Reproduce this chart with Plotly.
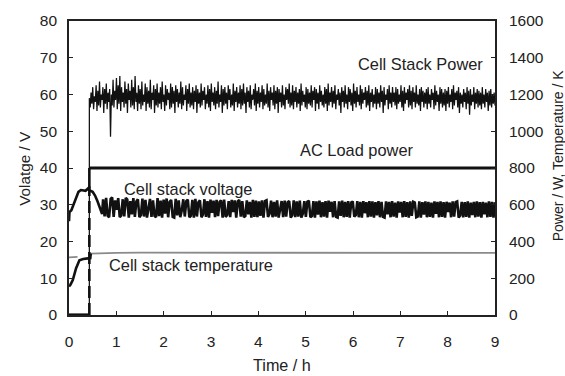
import plotly.graph_objects as go
import numpy as np

# ---------------- data ----------------
# Cell stack power (W, right axis)
power_pre_t = [0.0, 0.43, 0.43]
power_pre_w = [0, 0, 800]
power_t_start = 0.43
power_t_end = 9.0
power_w = [
    1180, 1130, 1210, 1150, 1240, 1120, 1190, 1160, 1250, 1110, 1220, 1140, 1270, 1130, 1200, 1170, 1240, 1100, 1230, 1150,
    1260, 1120, 1210, 1160, 1230, 970, 1200, 1140, 1280, 1130, 1220, 1170, 1290, 1120, 1250, 1150, 1300, 1110, 1240, 1160,
    1210, 1130, 1270, 1150, 1230, 1100, 1260, 1170, 1220, 1130, 1280, 1140, 1240, 1120, 1300, 1160, 1210, 1110, 1250, 1150,
    1230, 1120, 1270, 1140, 1200, 1160, 1260, 1110, 1240, 1150, 1220, 1130, 1280, 1120, 1210, 1170, 1250, 1100, 1230, 1140,
    1260, 1130, 1210, 1150, 1240, 1120, 1270, 1160, 1200, 1110, 1250, 1140, 1230, 1170, 1210, 1120, 1260, 1130, 1240, 1150,
    1220, 1100, 1250, 1160, 1230, 1130, 1210, 1150, 1270, 1120, 1240, 1140, 1200, 1170, 1250, 1110, 1230, 1150, 1260, 1130,
    1210, 1140, 1240, 1120, 1220, 1160, 1250, 1100, 1230, 1150, 1210, 1130, 1260, 1140, 1220, 1170, 1240, 1120, 1200, 1150,
    1250, 1130, 1230, 1110, 1260, 1160, 1210, 1140, 1240, 1120, 1220, 1150, 1270, 1130, 1200, 1160, 1250, 1100, 1230, 1140,
    1240, 1150, 1210, 1120, 1250, 1170, 1230, 1130, 1200, 1140, 1260, 1110, 1220, 1160, 1240, 1130, 1210, 1150, 1250, 1120,
    1230, 1140, 1260, 1150, 1210, 1100, 1240, 1160, 1220, 1130, 1250, 1120, 1200, 1170, 1230, 1140, 1260, 1110, 1220, 1150,
    1240, 1130, 1210, 1160, 1250, 1120, 1230, 1140, 1200, 1150, 1260, 1130, 1220, 1110, 1240, 1170, 1210, 1140, 1250, 1120,
    1220, 1150, 1240, 1100, 1230, 1160, 1210, 1130, 1250, 1140, 1200, 1120, 1240, 1170, 1230, 1150, 1260, 1130, 1210, 1140,
    1250, 1120, 1220, 1160, 1240, 1130, 1210, 1150, 1230, 1110, 1260, 1140, 1220, 1160, 1200, 1130, 1240, 1120, 1230, 1150,
    1210, 1140, 1250, 1130, 1220, 1170, 1240, 1110, 1230, 1150, 1210, 1120, 1250, 1160, 1220, 1140, 1200, 1130, 1240, 1150,
    1230, 1110, 1260, 1140, 1210, 1160, 1240, 1130, 1220, 1150, 1250, 1120, 1200, 1170, 1230, 1140, 1210, 1100, 1240, 1160,
    1220, 1130, 1250, 1150, 1200, 1120, 1240, 1160, 1230, 1140, 1210, 1110, 1260, 1150, 1220, 1130, 1240, 1160, 1200, 1140,
    1250, 1120, 1230, 1150, 1210, 1170, 1240, 1130, 1220, 1140, 1250, 1110, 1210, 1160, 1230, 1130, 1200, 1150, 1240, 1120,
    1230, 1150, 1210, 1130, 1250, 1160, 1220, 1100, 1240, 1140, 1200, 1170, 1230, 1120, 1250, 1150, 1210, 1130, 1240, 1160,
    1210, 1140, 1240, 1120, 1230, 1150, 1200, 1160, 1250, 1130, 1220, 1110, 1240, 1150, 1210, 1170, 1230, 1130, 1250, 1140,
    1220, 1120, 1240, 1160, 1210, 1130, 1250, 1150, 1200, 1140, 1230, 1110, 1240, 1160, 1220, 1130, 1210, 1150, 1230, 1120,
    1240, 1150, 1200, 1130, 1230, 1170, 1210, 1120, 1250, 1140, 1220, 1160, 1200, 1110, 1240, 1150, 1230, 1130, 1210, 1140,
    1230, 1110, 1220, 1150, 1240, 1130, 1200, 1160, 1230, 1120, 1250, 1140, 1210, 1170, 1220, 1130, 1240, 1100, 1210, 1150,
    1200, 1130, 1230, 1160, 1210, 1120, 1240, 1150, 1220, 1090, 1230, 1140, 1200, 1160, 1240, 1120, 1210, 1150, 1230, 1130,
    1220, 1140, 1210, 1120, 1240, 1150, 1200, 1130, 1230, 1160, 1210, 1110, 1220, 1140, 1230, 1130, 1200, 1150, 1210, 1140,
]

# AC load power (W, right axis)
ac_t = [0.0, 0.43, None, 0.43, 9.0]
ac_w = [0, 0, None, 800, 800]
ac_step_t = [0.43, 0.43]
ac_step_w = [0, 700]
ac_step_solid_t = [0.43, 0.43]
ac_step_solid_w = [690, 800]

# Cell stack voltage (V, left axis)
volt_start_t = [0.0, 0.01, 0.05, 0.1, 0.15, 0.2, 0.25, 0.3, 0.35, 0.4, 0.45, 0.5, 0.55, 0.6, 0.65, 0.7]
volt_start_v = [25.5, 28.0, 28.5, 30.0, 32.0, 33.5, 34.0, 34.0, 33.8, 34.4, 33.8, 33.5, 32.5, 31.0, 29.0, 27.5]
volt_osc_t_start = 0.72
volt_osc_t_end = 9.0
volt_osc_v = [
    31.5, 26.8, 31.9, 27.0, 26.6, 31.6, 32.0, 26.7, 31.2, 28.6, 31.8, 26.6, 27.1, 31.5, 26.8, 31.9, 31.4, 26.5, 31.0, 27.4,
    31.8, 26.7, 30.9, 31.5, 26.6, 27.2, 31.7, 26.8, 31.3, 26.5, 29.0, 31.6, 26.7, 31.2, 27.0, 26.6, 31.8, 26.9, 31.1, 26.5,
    31.4, 27.6, 31.7, 26.6, 30.8, 31.3, 26.7, 26.5, 31.6, 27.1, 31.2, 26.6, 28.4, 31.5, 26.8, 31.0, 31.4, 26.6, 27.0, 31.3,
    26.5, 31.6, 26.8, 30.7, 31.2, 26.6, 27.3, 31.5, 26.7, 31.0, 26.5, 31.4, 27.8, 31.1, 26.6, 31.3, 26.9, 30.8, 31.2, 26.5,
    31.4, 26.7, 27.2, 31.0, 26.6, 31.3, 28.0, 31.2, 26.5, 30.9, 31.3, 26.8, 31.0, 26.6, 26.9, 31.2, 27.4, 30.8, 26.5, 31.3,
    26.7, 31.1, 26.6, 30.9, 27.0, 31.2, 26.5, 31.0, 31.2, 26.7, 27.5, 31.1, 26.6, 30.8, 26.8, 31.2, 26.5, 28.3, 31.0, 26.6,
    31.1, 26.8, 30.7, 31.0, 26.5, 27.1, 31.2, 26.6, 30.9, 26.8, 31.1, 26.5, 27.6, 31.0, 26.7, 30.8, 31.1, 26.6, 26.9, 31.0,
    26.5, 30.9, 27.3, 31.1, 26.6, 30.7, 26.8, 31.0, 26.5, 31.1, 28.1, 30.8, 26.6, 31.0, 26.7, 26.5, 30.9, 27.0, 31.1, 26.6,
    30.8, 26.7, 31.0, 26.5, 30.6, 30.9, 26.8, 27.2, 31.0, 26.6, 30.8, 26.5, 31.0, 27.7, 30.7, 26.6, 31.0, 26.8, 30.9, 26.5,
    30.7, 27.1, 31.0, 26.6, 30.8, 26.7, 26.5, 30.9, 27.4, 30.8, 26.6, 31.0, 26.8, 30.6, 26.5, 30.9, 27.9, 30.8, 26.6, 31.0,
    26.7, 30.7, 26.5, 30.9, 27.0, 30.8, 30.6, 26.6, 26.8, 30.9, 26.5, 30.7, 27.3, 30.9, 26.6, 30.8, 26.7, 30.6, 26.5, 30.9,
    27.5, 30.8, 26.6, 30.9, 26.7, 30.7, 26.5, 30.8, 28.0, 30.6, 26.6, 30.9, 26.8, 30.7, 30.9, 26.5, 27.1, 30.8, 26.6, 30.7,
    26.7, 30.9, 26.5, 30.6, 27.2, 30.8, 26.6, 30.9, 26.8, 30.7, 26.5, 30.8, 27.4, 30.6, 26.6, 30.9, 26.7, 30.8, 26.5, 30.7,
]

# Cell stack temperature (K, right axis)
temp_thick_t = [0.0, 0.03, 0.08, 0.15, 0.22, 0.3, 0.4, 0.45, 0.46]
temp_thick_k = [155, 165, 190, 255, 298, 305, 308, 310, 334]
temp_thin_t = [0.0, 0.18, None, 0.45, 0.6, 0.8, 1.0, 1.5, 2.0, 3.0, 4.0, 5.0, 6.0, 7.0, 8.0, 9.0]
temp_thin_k = [314, 316, None, 334, 336, 337, 338, 339, 339, 339, 338, 338, 338, 338, 338, 338]

x_ticks = [0, 1, 2, 3, 4, 5, 6, 7, 8, 9]
y_left_ticks = [0, 10, 20, 30, 40, 50, 60, 70, 80]
y_right_ticks = [0, 200, 400, 600, 800, 1000, 1200, 1400, 1600]

# ---------------- figure ----------------
FONT = "Arial, Liberation Sans, sans-serif"
TXT = "#222222"
ML, MR, MT, MB = 68.5, 70, 18, 60.5
W, H = 565, 376

power_t = np.linspace(power_t_start, power_t_end, len(power_w))
volt_osc_t = np.linspace(volt_osc_t_start, volt_osc_t_end, len(volt_osc_v))

fig = go.Figure()

fig.add_trace(go.Scatter(x=temp_thin_t, y=temp_thin_k, yaxis="y2", mode="lines",
                         line=dict(color="#8a8a8a", width=1.8), connectgaps=False, hoverinfo="skip"))
fig.add_trace(go.Scatter(x=temp_thick_t, y=temp_thick_k, yaxis="y2", mode="lines",
                         line=dict(color="#111111", width=2.6), hoverinfo="skip"))
fig.add_trace(go.Scatter(x=list(power_pre_t) + list(power_t), y=list(power_pre_w) + list(power_w),
                         yaxis="y2", mode="lines", line=dict(color="#111111", width=1.25), hoverinfo="skip"))
fig.add_trace(go.Scatter(x=list(volt_start_t) + list(volt_osc_t), y=list(volt_start_v) + list(volt_osc_v),
                         yaxis="y", mode="lines", line=dict(color="#111111", width=2.6), hoverinfo="skip"))
fig.add_trace(go.Scatter(x=ac_t, y=ac_w, yaxis="y2", mode="lines", connectgaps=False,
                         line=dict(color="#111111", width=3.2), hoverinfo="skip"))
fig.add_trace(go.Scatter(x=ac_step_t, y=ac_step_w, yaxis="y2", mode="lines",
                         line=dict(color="#111111", width=2.6, dash="12px,5px"), hoverinfo="skip"))
fig.add_trace(go.Scatter(x=ac_step_solid_t, y=ac_step_solid_w, yaxis="y2", mode="lines",
                         line=dict(color="#111111", width=2.6), hoverinfo="skip"))

axis_common = dict(showgrid=False, zeroline=False, ticks="inside", ticklen=4, tickwidth=1,
                   tickcolor="#222", showline=True, linecolor="#222", linewidth=1.6,
                   tickfont=dict(family=FONT, size=15.5, color=TXT))

fig.update_layout(
    width=W, height=H,
    margin=dict(l=ML, r=MR, t=MT, b=MB),
    paper_bgcolor="white", plot_bgcolor="white",
    showlegend=False,
    font=dict(family=FONT, size=15, color=TXT),
    xaxis=dict(range=[0, 9], tickvals=x_ticks, mirror=True, ticklabelstandoff=12, **axis_common),
    yaxis=dict(range=[0, 80], tickvals=y_left_ticks, ticklabelstandoff=7, **axis_common),
    yaxis2=dict(range=[0, 1600], tickvals=y_right_ticks, overlaying="y", side="right",
                ticklabelstandoff=9, **axis_common),
)

ann = dict(showarrow=False, font=dict(family=FONT, size=16.4, color=TXT))
fig.add_annotation(x=7.42, y=68.4, xref="x", yref="y", text="Cell Stack Power", **ann)
fig.add_annotation(x=6.09, y=45.0, xref="x", yref="y", text="AC Load power", **ann)
fig.add_annotation(x=2.51, y=34.3, xref="x", yref="y", text="Cell stack voltage", **ann)
fig.add_annotation(x=2.57, y=13.6, xref="x", yref="y", text="Cell stack temperature", **ann)

pw = W - ML - MR
ph = H - MT - MB


def px2paper(px, py):
    return (px - ML) / pw, (H - MB - py) / ph


tx, ty = px2paper(282, 366)
fig.add_annotation(x=tx, y=ty, xref="paper", yref="paper", text="Time / h", showarrow=False,
                   xanchor="center", yanchor="middle", font=dict(family=FONT, size=16.2, color=TXT))
lx, ly = px2paper(24, 167)
fig.add_annotation(x=lx, y=ly, xref="paper", yref="paper", text="Volatge / V", textangle=-90, showarrow=False,
                   xanchor="center", yanchor="middle", font=dict(family=FONT, size=15.3, color=TXT))
rx, ry = px2paper(558, 154)
fig.add_annotation(x=rx, y=ry, xref="paper", yref="paper", text="Power / W, Temperature / K", textangle=-90,
                   showarrow=False, xanchor="center", yanchor="middle", font=dict(family=FONT, size=14, color=TXT))

fig.write_html("out.html")
